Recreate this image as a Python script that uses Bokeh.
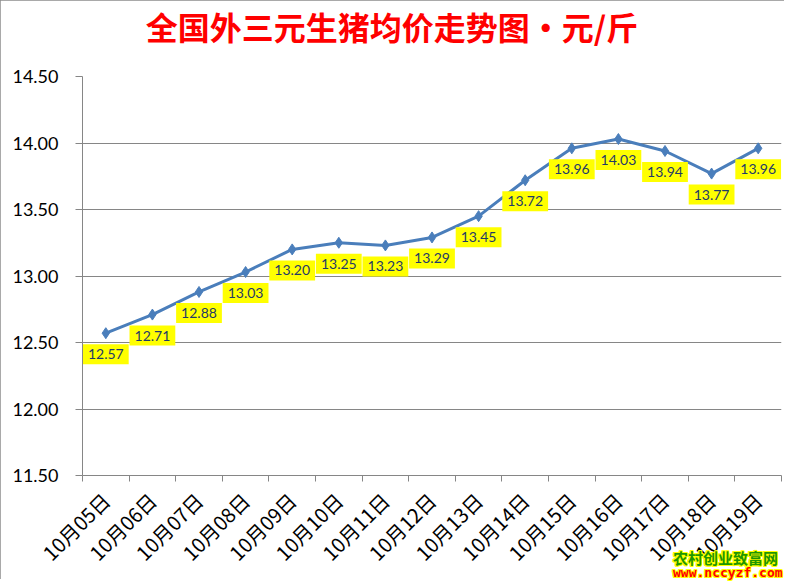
from bokeh.plotting import figure
from bokeh.models import FixedTicker, Range1d, ColumnDataSource, Div
from bokeh.layouts import column
from bokeh.core.properties import value
from bokeh.embed import file_html
from bokeh.resources import INLINE
import math

# ---- data ----
dates = ["10月05日", "10月06日", "10月07日", "10月08日", "10月09日", "10月10日",
         "10月11日", "10月12日", "10月13日", "10月14日", "10月15日", "10月16日",
         "10月17日", "10月18日", "10月19日"]
prices = [12.57, 12.71, 12.88, 13.03, 13.20, 13.25, 13.23, 13.29, 13.45,
          13.72, 13.96, 14.03, 13.94, 13.77, 13.96]
y_ticks = [11.5, 12.0, 12.5, 13.0, 13.5, 14.0, 14.5]
title_text = "全国外三元生猪均价走势图·元/斤"
watermark_name = "农村创业致富网"
watermark_url = "www.nccyzf.com"

n = len(dates)
xs = [i + 0.5 for i in range(n)]
src = ColumnDataSource(dict(x=xs, y=prices, lab=["%.2f" % v for v in prices]))

W, H = 784, 579
p = figure(width=W, height=H, output_backend="svg", toolbar_location=None,
           x_range=Range1d(0, n), y_range=Range1d(11.5, 14.5),
           min_border_left=82, min_border_right=3, min_border_top=76,
           min_border_bottom=H - 475)
p.styles = {"outline": "1px solid #8c8c8c", "outline-offset": "-1px"}

p.outline_line_color = None
p.xgrid.grid_line_color = None
p.ygrid.grid_line_color = "#868686"
p.ygrid.ticker = FixedTicker(ticks=y_ticks)

# y axis
p.yaxis.ticker = FixedTicker(ticks=y_ticks)
p.yaxis.major_label_overrides = {t: "%.2f" % t for t in y_ticks}
p.yaxis.major_label_text_font = "Lato"
p.yaxis.major_label_text_font_size = "18px"
p.yaxis.major_label_text_color = "#000000"
p.yaxis.axis_line_color = "#868686"
p.yaxis.major_tick_line_color = "#868686"
p.yaxis.major_tick_out = 7
p.yaxis.major_tick_in = 0
p.yaxis.minor_tick_line_color = None
p.yaxis.major_label_standoff = 17

# x axis
p.xaxis.ticker = FixedTicker(ticks=xs, minor_ticks=list(range(n + 1)))
p.xaxis.major_label_overrides = {x: d for x, d in zip(xs, dates)}
p.xaxis.major_label_orientation = math.pi / 4
p.xaxis.major_label_text_font = "Noto Sans CJK SC"
p.xaxis.major_label_text_font_size = "20px"
p.xaxis.major_label_text_color = "#000000"
p.xaxis.axis_line_color = "#868686"
p.xaxis.major_tick_out = 0
p.xaxis.major_tick_in = 0
p.xaxis.minor_tick_line_color = "#868686"
p.xaxis.minor_tick_out = 6
p.xaxis.minor_tick_in = 0
p.xaxis.major_label_standoff = 15

# line + markers
p.line("x", "y", source=src, line_color="#4A7EBB", line_width=3)
p.scatter("x", "y", source=src, marker="diamond", size=11,
          fill_color="#4A7EBB", line_color="#4A7EBB")

# data labels
p.text("x", "y", text="lab", source=src, y_offset=21,
       text_align="center", text_baseline="middle",
       text_font=value("Lato"), text_font_size="14px", text_color="#1F3A68",
       background_fill_color="#FFFF00", padding=[5, 5, 5, 5])

# title (overlaid on the top of the chart)
title_div = Div(
    text=(f'<div style="font-family: \'Noto Sans CJK SC\'; font-weight: bold; '
          f'font-size: 32px; line-height: 52px; color: #FF0000; text-align: center; '
          f'width: {W}px;">{title_text}</div>'),
    width=W, height=52, margin=(0, 0, -52, 0), styles={"z-index": "10"})

# watermark (overlaid at the bottom-right corner)
halo = ("text-shadow: 1px 1px 0 #FFFF00, -1px -1px 0 #FFFF00, 1px -1px 0 #FFFF00, "
        "-1px 1px 0 #FFFF00, 0 1px 0 #FFFF00, 0 -1px 0 #FFFF00, 1px 0 0 #FFFF00, -1px 0 0 #FFFF00;")
wm_html = (
    f'<div style="font-family: \'Noto Sans CJK SC\'; font-weight: bold; font-size: 15px; '
    f'line-height: 16px; color: #1E9600; {halo}">{watermark_name}</div>'
    f'<div style="font-family: \'DejaVu Sans Mono\'; font-weight: bold; font-size: 13px; '
    f'line-height: 13px; color: #FF0000; {halo}">{watermark_url}</div>'
)
wm = Div(text=wm_html, width=112, height=29, margin=(-29, 0, 0, 673),
         styles={"z-index": "10"})

layout = column(title_div, p, wm)
open("out.html", "w").write(file_html(layout, INLINE))
